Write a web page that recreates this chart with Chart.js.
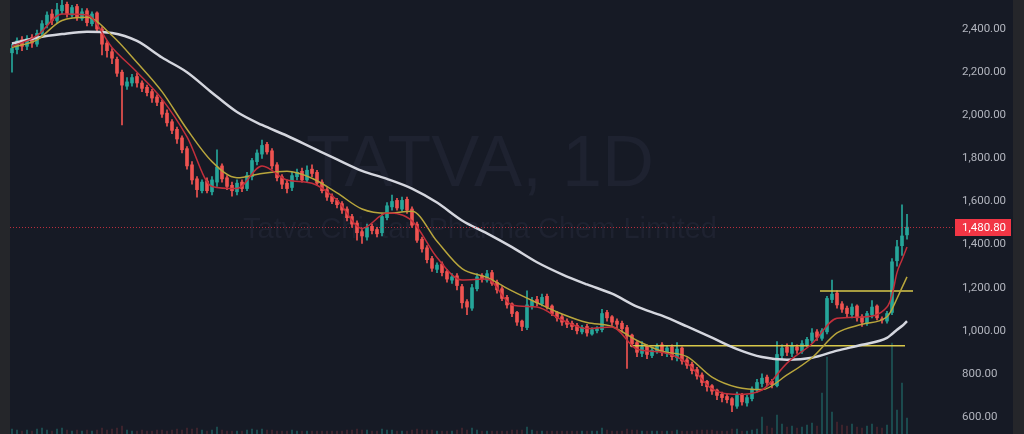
<!DOCTYPE html>
<html>
<head>
<meta charset="utf-8">
<script src="https://cdn.jsdelivr.net/npm/chart.js@4.4.1/dist/chart.umd.min.js"></script>
<style>
  html, body { margin: 0; padding: 0; width: 1024px; height: 434px; overflow: hidden; background: #25262a; }
  #wrap { position: absolute; left: 10px; top: 0; width: 1003px; height: 434px; }
</style>
</head>
<body>
<div id="wrap"><canvas id="grafico"></canvas></div>
<script>
// Dados (TATVA, diário)
const abertura = [
  2290, 2305, 2350, 2320, 2360, 2330, 2380, 2420, 2470, 2440,
  2485, 2515, 2465, 2505, 2450, 2485, 2425, 2475, 2400, 2335,
  2295, 2260, 2200, 2135, 2150, 2180, 2150, 2130, 2110, 2085,
  2060, 2010, 1970, 1935, 1895, 1845, 1770, 1705, 1650, 1695,
  1645, 1690, 1765, 1710, 1675, 1645, 1690, 1660, 1715, 1785,
  1820, 1865, 1835, 1770, 1715, 1685, 1665, 1715, 1740, 1700,
  1750, 1735, 1690, 1655, 1625, 1605, 1590, 1565, 1530, 1500,
  1460, 1435, 1485, 1470, 1455, 1525, 1575, 1605, 1565, 1610,
  1565, 1495, 1425, 1385, 1335, 1285, 1310, 1275, 1235, 1255,
  1205, 1135, 1105, 1195, 1255, 1235, 1270, 1225, 1195, 1155,
  1125, 1085, 1045, 1015, 1115, 1145, 1125, 1160, 1115, 1085,
  1065, 1045, 1035, 1025, 995, 1020, 985, 1000, 1005, 1085,
  1065, 1045, 1035, 1015, 980, 945, 895, 930, 885, 905,
  935, 895, 925, 875, 920, 865, 845, 820, 795, 765,
  745, 725, 705, 695, 685, 650, 705, 665, 685, 725,
  755, 785, 765, 745, 885, 925, 895, 925, 905, 935,
  955, 995, 965, 995, 1145, 1175, 1125, 1105, 1075, 1115,
  1065, 1035, 1075, 1115, 1055, 1045, 1085, 1325, 1395, 1445
];
const maxima = [
  2330, 2360, 2365, 2370, 2375, 2395, 2440, 2480, 2490, 2520,
  2535, 2525, 2510, 2515, 2495, 2495, 2480, 2480, 2410, 2345,
  2310, 2270, 2210, 2175, 2190, 2195, 2160, 2140, 2120, 2095,
  2070, 2025, 1980, 1945, 1905, 1855, 1785, 1715, 1700, 1710,
  1715, 1840, 1775, 1720, 1690, 1700, 1700, 1735, 1800, 1840,
  1885, 1875, 1845, 1780, 1725, 1700, 1735, 1750, 1755, 1765,
  1770, 1745, 1700, 1665, 1635, 1615, 1600, 1575, 1540, 1510,
  1470, 1495, 1495, 1480, 1540, 1595, 1630, 1615, 1620, 1620,
  1575, 1505, 1435, 1395, 1345, 1315, 1320, 1285, 1265, 1265,
  1215, 1145, 1215, 1265, 1265, 1280, 1280, 1235, 1205, 1165,
  1130, 1090, 1050, 1185, 1155, 1160, 1170, 1170, 1120, 1090,
  1075, 1055, 1045, 1035, 1025, 1030, 1015, 1020, 1100, 1095,
  1070, 1055, 1045, 1025, 985, 955, 950, 935, 920, 940,
  945, 930, 935, 945, 925, 875, 855, 830, 805, 770,
  750, 730, 715, 705, 690, 715, 710, 700, 740, 775,
  800, 795, 775, 950, 935, 940, 945, 935, 955, 970,
  1010, 1005, 1010, 1160, 1235, 1185, 1135, 1115, 1125, 1120,
  1075, 1090, 1140, 1120, 1065, 1090, 1335, 1420, 1585, 1540
];
const minima = [
  2200, 2285, 2300, 2305, 2315, 2320, 2360, 2405, 2420, 2430,
  2470, 2455, 2455, 2440, 2440, 2415, 2415, 2390, 2280, 2270,
  2240, 2180, 1955, 2120, 2135, 2130, 2110, 2090, 2060, 2045,
  1990, 1950, 1915, 1870, 1825, 1750, 1680, 1620, 1640, 1640,
  1630, 1670, 1690, 1655, 1625, 1630, 1645, 1650, 1700, 1770,
  1800, 1820, 1750, 1695, 1660, 1640, 1650, 1700, 1690, 1690,
  1715, 1675, 1640, 1605, 1590, 1570, 1545, 1510, 1480, 1420,
  1405, 1420, 1450, 1435, 1440, 1515, 1560, 1560, 1555, 1545,
  1480, 1410, 1365, 1315, 1275, 1270, 1255, 1225, 1220, 1190,
  1105, 1075, 1095, 1185, 1225, 1225, 1210, 1175, 1140, 1105,
  1065, 1025, 1000, 1005, 1100, 1115, 1115, 1100, 1070, 1045,
  1025, 1015, 1005, 985, 985, 975, 980, 990, 995, 1045,
  1025, 1015, 995, 825, 925, 880, 880, 870, 875, 895,
  885, 880, 865, 860, 845, 825, 800, 775, 745, 720,
  705, 680, 670, 665, 625, 640, 655, 650, 675, 715,
  740, 745, 735, 740, 870, 885, 880, 895, 895, 925,
  945, 955, 955, 985, 1130, 1105, 1085, 1065, 1060, 1045,
  1020, 1025, 1060, 1050, 1035, 1035, 1075, 1300, 1350, 1425
];
const fechamento = [
  2310, 2345, 2320, 2355, 2335, 2380, 2425, 2465, 2440, 2490,
  2510, 2470, 2500, 2455, 2480, 2430, 2470, 2400, 2330, 2300,
  2265, 2195, 2140, 2155, 2175, 2150, 2125, 2105, 2080, 2060,
  2005, 1965, 1930, 1890, 1840, 1765, 1700, 1655, 1690, 1650,
  1700, 1760, 1705, 1670, 1650, 1685, 1660, 1720, 1790, 1825,
  1860, 1830, 1765, 1710, 1680, 1660, 1720, 1735, 1700, 1745,
  1730, 1685, 1650, 1620, 1600, 1585, 1560, 1525, 1495, 1455,
  1440, 1480, 1465, 1450, 1530, 1580, 1600, 1570, 1605, 1560,
  1490, 1420, 1380, 1330, 1290, 1305, 1270, 1240, 1250, 1210,
  1130, 1110, 1200, 1250, 1240, 1265, 1220, 1190, 1150, 1120,
  1080, 1040, 1020, 1120, 1140, 1130, 1155, 1110, 1080, 1060,
  1040, 1030, 1020, 1000, 1015, 990, 1005, 1010, 1080, 1060,
  1040, 1030, 1010, 975, 940, 900, 925, 890, 910, 930,
  900, 920, 880, 915, 860, 840, 815, 790, 760, 740,
  720, 700, 690, 680, 655, 700, 670, 690, 730, 760,
  780, 760, 750, 890, 920, 900, 930, 910, 940, 960,
  990, 970, 1000, 1150, 1170, 1120, 1100, 1080, 1110, 1060,
  1040, 1080, 1110, 1060, 1050, 1080, 1320, 1390, 1440, 1480.8
];
const volume = [
  0.5, 0.4, 0.3, 0.4, 0.3, 0.5, 0.6, 0.4, 0.3, 0.5,
  0.6, 0.4, 0.3, 0.4, 0.3, 0.4, 0.3, 0.4, 0.6, 0.4,
  0.5, 0.6, 0.8, 0.4, 0.3, 0.3, 0.4, 0.3, 0.3, 0.4,
  0.4, 0.3, 0.4, 0.5, 0.4, 0.6, 0.5, 0.6, 0.4, 0.3,
  0.4, 0.7, 0.4, 0.3, 0.3, 0.3, 0.3, 0.4, 0.5, 0.4,
  0.5, 0.4, 0.4, 0.3, 0.3, 0.3, 0.4, 0.3, 0.3, 0.3,
  0.3, 0.3, 0.3, 0.3, 0.3, 0.3, 0.3, 0.4, 0.4, 0.5,
  0.4, 0.4, 0.3, 0.3, 0.5, 0.4, 0.4, 0.3, 0.3, 0.3,
  0.4, 0.5, 0.4, 0.4, 0.4, 0.3, 0.3, 0.3, 0.3, 0.4,
  0.6, 0.4, 0.6, 0.4, 0.3, 0.3, 0.3, 0.3, 0.3, 0.3,
  0.4, 0.4, 0.4, 0.7, 0.4, 0.3, 0.3, 0.3, 0.3, 0.3,
  0.3, 0.3, 0.3, 0.3, 0.3, 0.3, 0.3, 0.3, 0.6, 0.4,
  0.3, 0.3, 0.3, 0.5, 0.4, 0.4, 0.3, 0.3, 0.3, 0.3,
  0.3, 0.3, 0.3, 0.4, 0.3, 0.3, 0.3, 0.4, 0.4, 0.4,
  0.4, 0.3, 0.3, 0.3, 0.5, 0.5, 0.3, 0.3, 0.4, 0.5,
  1.7, 0.8, 0.6, 1.9, 1.0, 0.7, 0.8, 0.6, 0.7, 0.9,
  1.1, 0.8, 4.1, 7.7, 2.2, 1.2, 0.9, 0.8, 1.0, 0.7,
  0.6, 0.8, 1.0, 0.7, 0.6, 0.9, 9.1, 2.4, 5.1, 1.6
];

const mediaIndice = [0, 5, 10, 15, 20, 25, 30, 35, 40, 45, 50, 55, 60, 65, 70, 75, 80, 85, 90, 95,
  100, 105, 110, 115, 120, 125, 130, 135, 140, 145, 150, 155, 160, 165, 170, 175, 176, 177, 178, 179];
const mediaLenta = [2333, 2360, 2377, 2388, 2382, 2345, 2268, 2200, 2105, 2015, 1955, 1905, 1850, 1795, 1742, 1705, 1660, 1595, 1512, 1452,
  1388, 1318, 1262, 1215, 1172, 1112, 1070, 1020, 968, 915, 878, 866, 875, 908, 935, 967, 985, 1005, 1022, 1045];
const mediaMedia = [2315, 2350, 2440, 2455, 2370, 2245, 2110, 1935, 1785, 1710, 1730, 1740, 1708, 1640, 1565, 1545, 1555, 1415, 1288, 1248,
  1185, 1130, 1078, 1038, 1020, 955, 905, 880, 785, 738, 727, 795, 875, 990, 1030, 1065, 1100, 1150, 1200, 1250];
const mediaRapida = [2320, 2370, 2470, 2465, 2315, 2200, 2075, 1900, 1670, 1660, 1765, 1700, 1685, 1607, 1475, 1546, 1510, 1340, 1236, 1240,
  1120, 1110, 1050, 1010, 1018, 915, 900, 850, 730, 705, 725, 850, 940, 1058, 1064, 1110, 1165, 1270, 1330, 1389];

// Linhas horizontais (suporte / resistência)
const resistencia = { preco: 1185, de: 161.6, ate: 180.2 };
const suporte = { preco: 930, de: 123.6, ate: 178.6 };
const ultimoPreco = 1480.8;

const marcasY = [600, 800, 1000, 1200, 1400, 1600, 1800, 2000, 2200, 2400];

const corAlta = '#26a69a';
const corBaixa = '#ef5350';

const idx = fechamento.map((_, i) => i);
const sobe = idx.map(i => fechamento[i] >= abertura[i]);
const cores = sobe.map(s => s ? corAlta : corBaixa);

const fmt = v => v.toLocaleString('en-US', { minimumFractionDigits: 2, maximumFractionDigits: 2 });
const fonteEixo = '11.5px Roboto, sans-serif';

const fundo = {
  id: 'fundo',
  beforeDraw(chart) {
    const c = chart.ctx;
    c.save();
    c.fillStyle = '#161a25';
    c.fillRect(0, 0, chart.width, chart.height);
    c.restore();
  },
  beforeDatasetsDraw(chart) {
    const c = chart.ctx;
    const cx = 470;
    c.save();
    c.textAlign = 'center';
    c.textBaseline = 'middle';
    c.fillStyle = '#1e2230';
    c.font = '72px "Liberation Sans", Arial, sans-serif';
    c.fillText('TATVA, 1D', cx, 166);
    c.font = '29px "Liberation Sans", Arial, sans-serif';
    c.fillText('Tatva Chintan Pharma Chem Limited', cx, 230);
    c.restore();
  },
  afterDraw(chart) {
    const c = chart.ctx;
    const a = chart.chartArea;
    const y = Math.round(chart.scales.y.getPixelForValue(ultimoPreco)) + 0.5;
    c.save();
    c.strokeStyle = 'rgba(242,54,69,0.75)';
    c.lineWidth = 1;
    c.setLineDash([1, 2]);
    c.beginPath();
    c.moveTo(a.left, y);
    c.lineTo(a.right, y);
    c.stroke();
    c.setLineDash([]);
    c.fillStyle = '#f23645';
    c.fillRect(a.right, y - 8.5, 56, 17);
    c.fillStyle = '#ffffff';
    c.font = fonteEixo;
    c.textBaseline = 'middle';
    c.textAlign = 'left';
    c.fillText(fmt(ultimoPreco), a.right + 7, y + 0.5);
    c.restore();
  }
};

const ctx = document.getElementById('grafico').getContext('2d');

const grafico = new Chart(ctx, {
  type: 'bar',
  data: {
    datasets: [
      {
        type: 'line',
        data: mediaIndice.map((x, k) => ({ x, y: mediaRapida[k] })),
        borderColor: '#c22f3b',
        borderWidth: 1.5,
        pointRadius: 0,
        cubicInterpolationMode: 'monotone',
        order: 1,
      },
      {
        type: 'line',
        data: mediaIndice.map((x, k) => ({ x, y: mediaMedia[k] })),
        borderColor: '#b9a63c',
        borderWidth: 1.5,
        pointRadius: 0,
        cubicInterpolationMode: 'monotone',
        order: 1,
      },
      {
        type: 'line',
        data: mediaIndice.map((x, k) => ({ x, y: mediaLenta[k] })),
        borderColor: '#d4d6de',
        borderWidth: 2.5,
        pointRadius: 0,
        cubicInterpolationMode: 'monotone',
        order: 1,
      },
      {
        type: 'line',
        data: [{ x: resistencia.de, y: resistencia.preco }, { x: resistencia.ate, y: resistencia.preco }],
        borderColor: '#d8c84a',
        borderWidth: 1.5,
        pointRadius: 0,
        order: 2,
      },
      {
        type: 'line',
        data: [{ x: suporte.de, y: suporte.preco }, { x: suporte.ate, y: suporte.preco }],
        borderColor: '#d8c84a',
        borderWidth: 1.5,
        pointRadius: 0,
        order: 2,
      },
      {
        // corpos
        data: idx.map(i => ({ x: i, y: [abertura[i], fechamento[i]] })),
        backgroundColor: cores,
        barThickness: 3,
        grouped: false,
        order: 3,
      },
      {
        // pavios
        data: idx.map(i => ({ x: i, y: [minima[i], maxima[i]] })),
        backgroundColor: cores,
        barThickness: 1,
        grouped: false,
        order: 4,
      },
      {
        // volume
        data: idx.map(i => ({ x: i, y: volume[i] })),
        backgroundColor: sobe.map(s => s ? 'rgba(38,166,154,0.42)' : 'rgba(239,83,80,0.22)'),
        barThickness: 1,
        grouped: false,
        yAxisID: 'vol',
        order: 5,
      },
    ],
  },
  options: {
    responsive: true,
    maintainAspectRatio: false,
    animation: false,
    layout: { padding: 0 },
    plugins: {
      legend: { display: false },
      tooltip: { enabled: false },
    },
    scales: {
      x: {
        type: 'linear',
        min: -0.4,
        max: 188.6,
        display: false,
        offset: false,
      },
      y: {
        position: 'right',
        min: 521,
        max: 2535,
        grid: { display: false, drawTicks: false },
        border: { display: false },
        afterFit(scale) {
          scale.width = 58;
          scale.paddingTop = 0;
          scale.paddingBottom = 0;
        },
        afterBuildTicks(scale) { scale.ticks = marcasY.map(v => ({ value: v })); },
        ticks: {
          color: '#b2b5be',
          padding: 7,
          font: { family: 'Roboto', size: 11.5 },
          callback: v => fmt(v),
        },
      },
      vol: {
        display: false,
        min: 0,
        max: 43.4,
      },
    },
  },
  plugins: [fundo],
});
</script>
</body>
</html>
